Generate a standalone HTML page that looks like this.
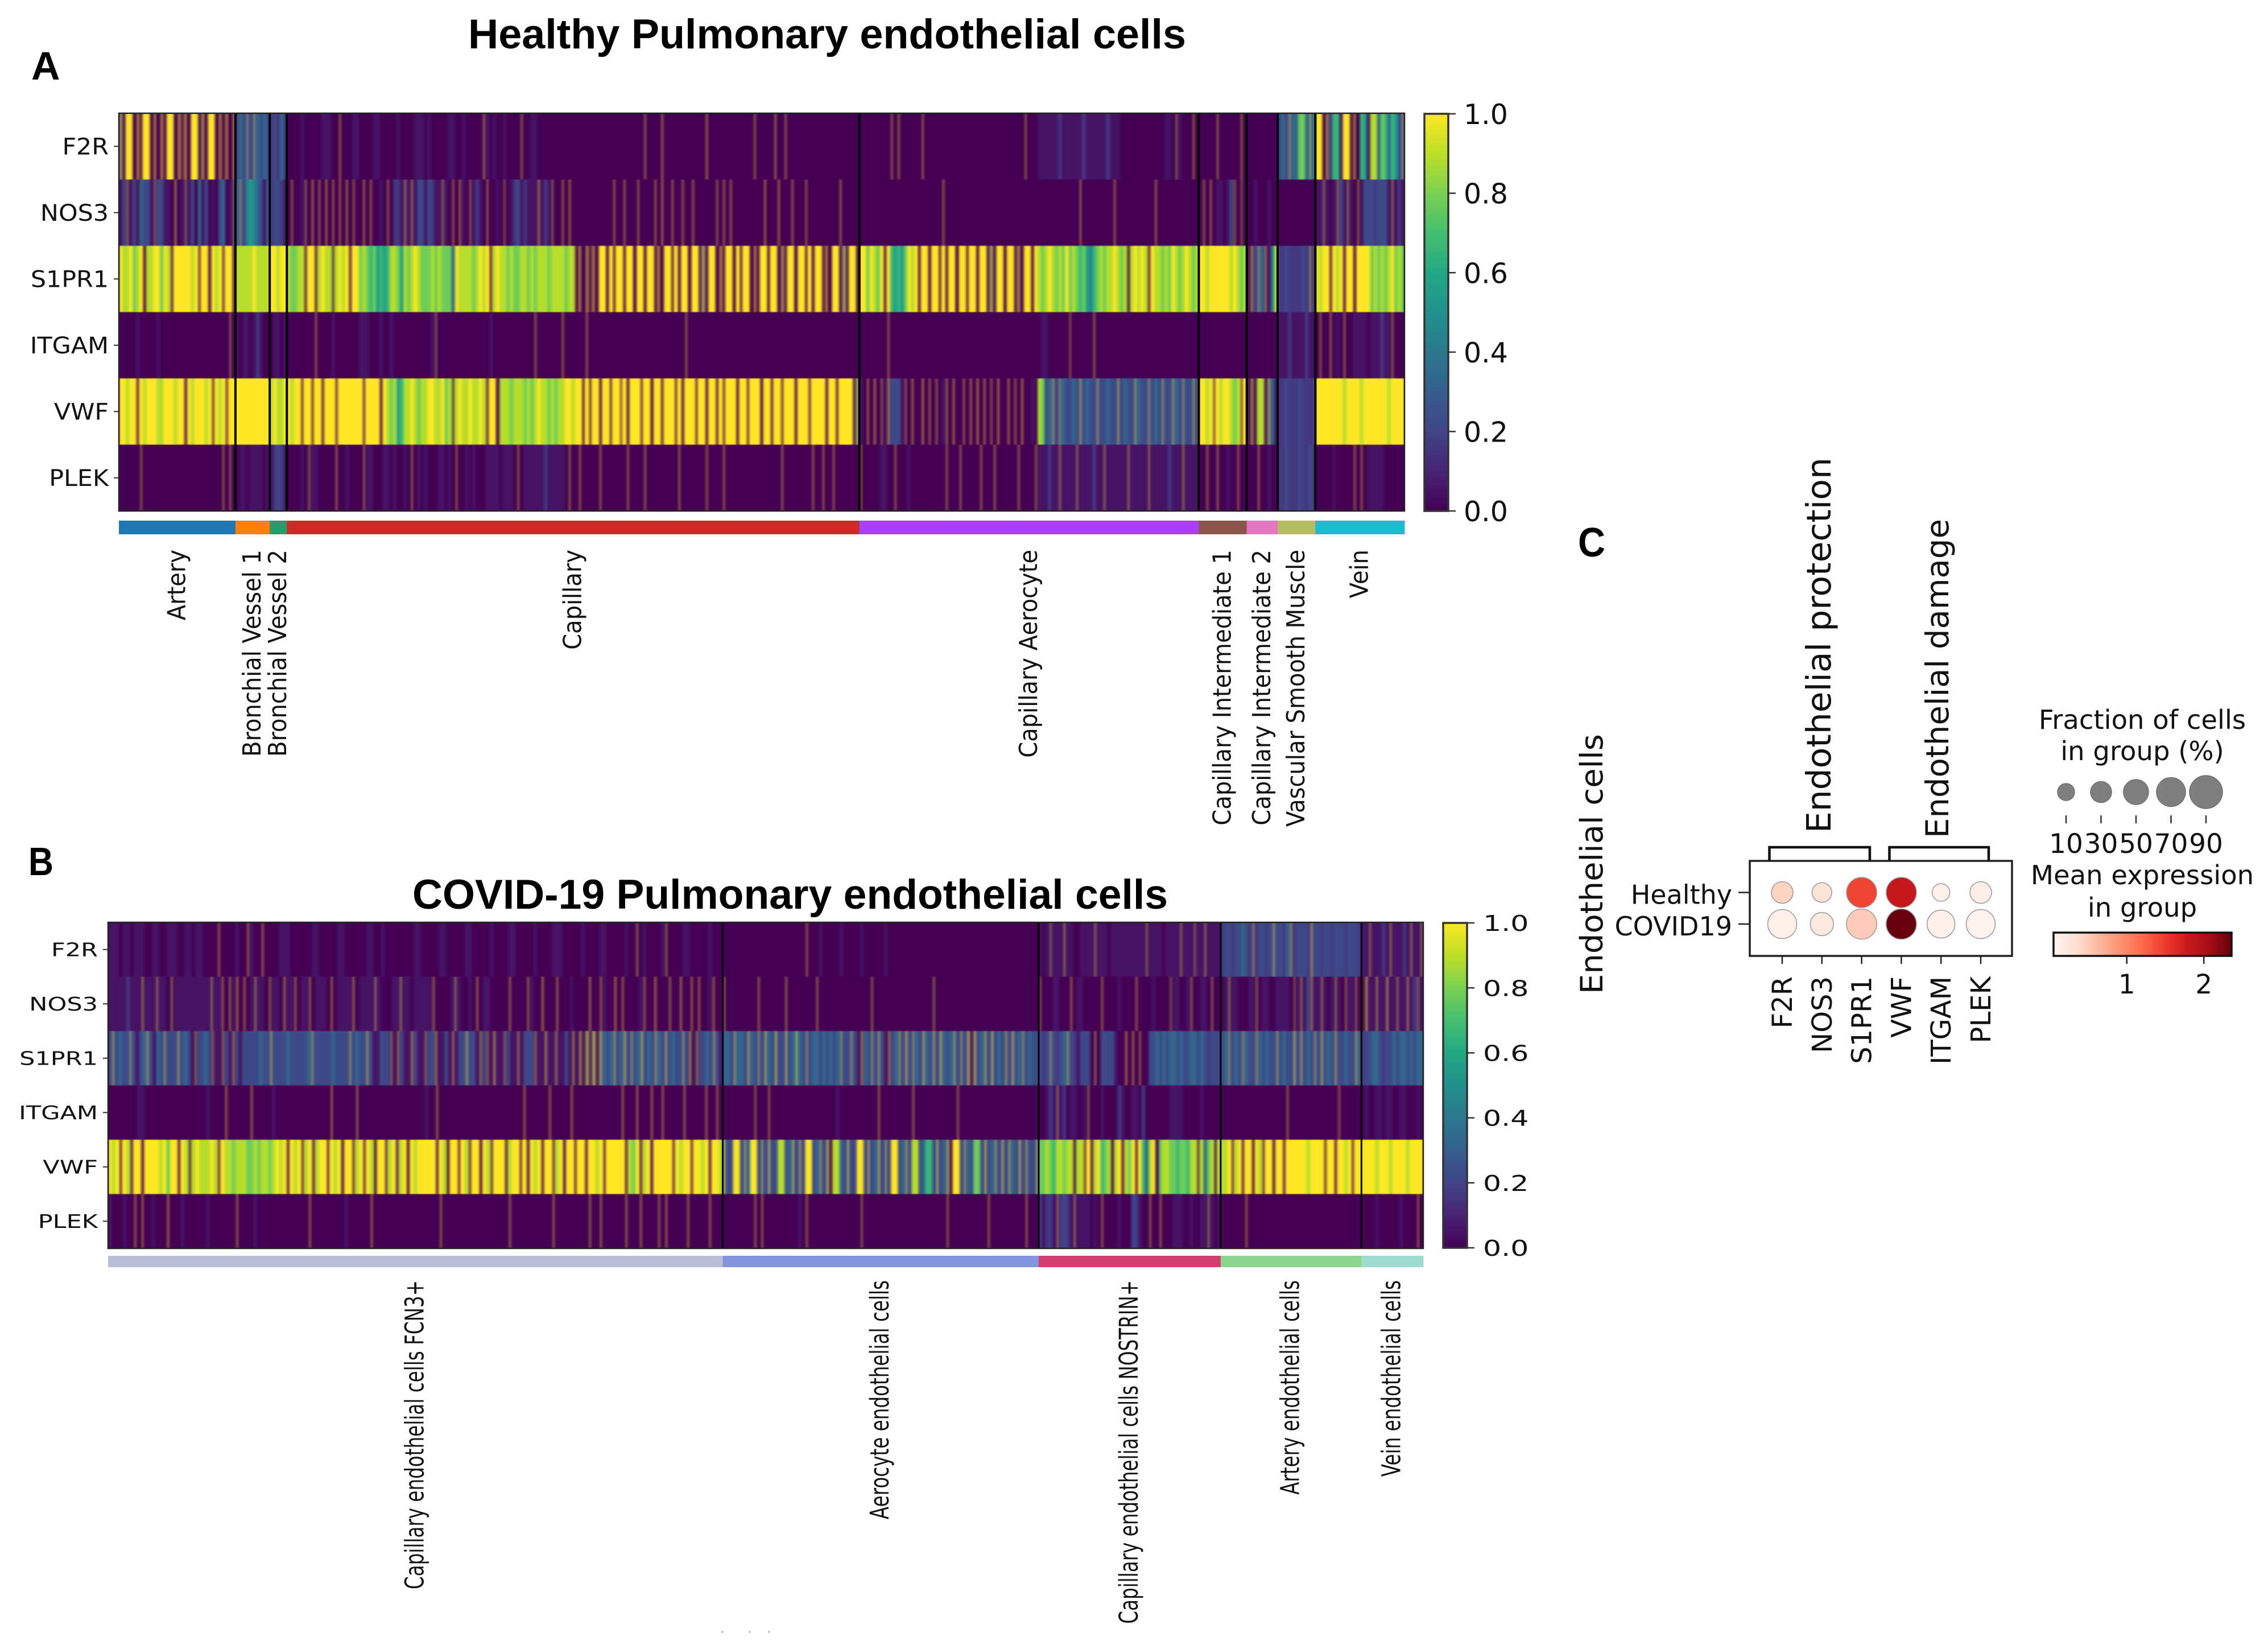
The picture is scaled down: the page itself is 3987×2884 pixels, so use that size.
<!DOCTYPE html>
<html lang="en">
<head>
<meta charset="utf-8">
<title>Pulmonary endothelial cells</title>
<style>
html,body{margin:0;padding:0;background:#fff;width:3987px;height:2884px;overflow:hidden}
svg{display:block}
text{fill:#111;font-family:"DejaVu Sans","Liberation Sans",sans-serif}
.hd{font-family:"Liberation Sans",sans-serif;font-weight:700;fill:#000}
</style>
</head>
<body>
<svg id="fig" xmlns="http://www.w3.org/2000/svg" width="3987" height="2884" viewBox="0 0 3987 2884">
<defs>
<filter id="cellBlur" filterUnits="userSpaceOnUse" x="150" y="150" width="2400" height="2100" color-interpolation-filters="sRGB"><feGaussianBlur stdDeviation="2.2 0.7"/></filter>
<clipPath id="clipA"><rect x="209" y="199" width="2260" height="699"/></clipPath>
<clipPath id="clipB"><rect x="190" y="1621" width="2312" height="573"/></clipPath>
<linearGradient id="viridisGrad" x1="0" y1="1" x2="0" y2="0"></linearGradient>
<linearGradient id="redsGrad" x1="0" y1="0" x2="1" y2="0"></linearGradient>
</defs>
<rect x="0" y="0" width="3987" height="2884" fill="#fff"/>
<text class="hd" x="823" y="85" font-size="73" textLength="1262" lengthAdjust="spacingAndGlyphs">Healthy Pulmonary endothelial cells</text>
<text class="hd" x="55" y="140" font-size="70">A</text>
<text class="hd" x="50" y="1538" font-size="70" textLength="44" lengthAdjust="spacingAndGlyphs">B</text>
<text class="hd" x="725" y="1597" font-size="73" textLength="1328" lengthAdjust="spacingAndGlyphs">COVID-19 Pulmonary endothelial cells</text>
<text class="hd" x="2774" y="978" font-size="72" textLength="48" lengthAdjust="spacingAndGlyphs">C</text>
<g id="panelA"></g>
<g id="panelB"></g>
<g id="panelC"></g>
</svg>
<script>
/* ---------- shared scales ---------- */
const geneLabels = ['F2R','NOS3','S1PR1','ITGAM','VWF','PLEK'];
const colorbarTicks = [0,0.2,0.4,0.6,0.8,1];
const viridisStops = ['#440154','#482475','#414487','#355f8d','#2a788e','#21918c','#22a884','#44bf70','#7ad151','#bddf26','#fde725'];
const redsStops = ['#fff5f0','#fee0d2','#fcbba1','#fc9272','#fb6a4a','#ef3b2c','#cb181d','#a50f15','#67000d'];
const SCORE_MAX = 9; /* cells are read as expression scores 0..9 => 0..1.0 on the colour bar; score 1 = barely detected */

/* ---------- panel A: healthy clusters ---------- */
const healthyClusters = ['Artery','Bronchial Vessel 1','Bronchial Vessel 2','Capillary','Capillary Aerocyte','Capillary Intermediate 1','Capillary Intermediate 2','Vascular Smooth Muscle','Vein'];
const healthyClusterCells = [34,10,5,167,99,14,9,11,26];
const healthyClusterColors = ['#1f77b4','#ff7f0e','#279e68','#d62728','#aa40fc','#8c564b','#e377c2','#b5bd61','#17becf'];

const aF2R = [
[9,2,9,9,0,9,3,9,9,1,9,0,9,2,9,9,0,9,3,9,0,9,9,2,9,1,9,9,0,9,2,9,0,9],
[2,3,2,4,2,5,3,2,3,2],
[1.5,2,1.5,3,1.5],
[0,0,0,0,1,0,0,0,0,0,1,1,1,0,0,5,0,0,0,1,1,0,0,0,0,1,1,0,0,0,0,0,1,0,0,0,0,1,1,1,0,1,0,0,0,0,0,1,1,0,0,1,0,0,0,0,0,6,1,0,1,0,0,1,0,0,0,0,5,0,0,1,1,0,0,0,0,0,0,0,0,0,0,0,
 0,0,0,0,0,0,0,0,0,0,0,0,0,0,0,0,0,0,0,0,5,0,0,0,0,6,0,0,0,0,0,0,0,0,0,0,0,0,6,0,0,0,0,0,0,0,0,0,0,0,0,0,5,0,0,0,0,0,6,0,0,5,0,0,0,0,0,0,0,0,0,0,0,0,0,0,0,0,0,0,0,0,0],
[0,0,0,0,0,0,0,0,0,5,0,5,0,0,0,0,0,0,5,0,0,0,0,0,0,0,0,0,0,0,0,0,0,0,0,0,0,0,0,0,0,0,0,0,0,0,0,0,5,0,0,0,1,1,1,1,1,1,1.5,1,1,1,1,1,1,1.5,1,1,1,1,1,1,1.5,1,1,1,0,0,0,0,0,0,0,0,0,0,0,0,0,1,1,0,5,1,0,0,0,5,0],
[0,0,0,0,0,5,0,0,0,0,0,0,5,0],
[0,0,0,0,0,0,0,0,0],
[2,3,2,6,3,3,7,7,3,6,3],
[9,9,1,9,2,6,6,1,9,9,2,8,0,6,5,1,8,8,3,7,6,3,6,5,2,6]];

const aNOS3 = [
[1,2,5,1,2,1,3,2,2,1,4,2,2,1,1,0,7,0,1,4,1,2,0,3,1,2,0,1,0,2,3,0,1,4],
[3,4,2,4,5,4,3,2,1,3],
[1.5,2,2,1.5,1],
[0,5,0,0,1,5,0,6,0,5,0,6,0,5,0,5,0,6,0,5,0,0,6,0,5,0,0,1,0,5,0,1.5,1.5,1,6,1,5,1,2,2,1,2,1.5,1,1,5,1,0,5,0,6,1,0,5,1,1.5,1,0,5,0,0,1,0,4,0,1,1.5,2,1,1.5,1,1,1,6,1,1.5,1,5,0,0,5,0,6,0,
 0,0,0,0,0,0,0,0,0,0,0,5,0,0,5,0,0,0,5,0,0,0,0,5,0,6,0,0,5,0,0,5,0,0,5,0,0,0,0,0,0,5,0,5,0,5,0,0,0,0,0,0,0,0,0,6,0,0,0,6,0,0,0,5,0,0,0,5,0,0,0,0,0,0,0,0,0,5,0,0,0,0,0],
[0,0,0,0,0,0,0,0,0,0,0,0,0,0,0,0,0,0,0,0,0,0,0,0,5,0,0,0,0,0,0,0,0,0,0,0,0,0,0,0,0,0,0,0,0,0,0,0,0,0,0,0,0,0,0,0,0,0,0,0,0,0,0,0,5,0,0,0,0,0,0,0,0,0,5,0,0,0,0,0,0,0,0,0,0,0,5,0,0,0,0,0,0,0,0,0,0,0,0],
[0,5,0,5,0,1,1,0,1,2,5,0,4,0],
[0,0,1,0,0,0,1,0,0],
[0,0,0,0,0,0,0,0,0,0,0],
[1,1,5,1,0,1,5,2,1,5,1,0,5,1,2,2,2,1.5,2,2,2,1,5,1,1.5,1]];

const aS1PR1 = [
[9,8,8,9,7,8,9,2,8,8,9,9,7,9,8,4,9,9,9,9,9,8,9,5,9,9,2,9,8,9,5,9,9,3],
[8,8,8,8,8,9,8,8,8,8],
[9,9,8,9,9],
[8,7,7,8,8,4,9,9,4,8,9,8,8,5,8,9,8,9,4,9,9,7,8,7,6,7,5,6,5,6,8,8,7,5,8,7,8,9,8,7,7,7,8,7,8,7,7,7,3,9,8,8,8,8,7,8,9,8,9,4,8,9,8,8,7,8,7,7,8,8,7,8,7,8,8,8,7,8,8,8,8,7,8,8,
 2,9,0,9,3,9,0,9,9,2,9,4,9,9,3,9,9,0,9,9,2,9,9,3,9,0,9,9,4,9,2,9,9,0,9,9,3,9,2,9,9,0,9,3,9,9,1,9,4,9,9,0,9,2,9,9,3,9,9,1,9,3,9,9,0,9,9,4,9,2,9,9,3,9,0,9,9,2,9,3,9,9,1],
[9,9,7,9,8,7,9,3,9,6,5,6,5,7,9,8,9,3,9,9,2,9,9,4,9,3,9,9,0,9,9,4,9,9,2,9,9,3,9,2,9,9,1,9,9,3,9,1,9,9,2,9,
 8,7,8,9,8,7,8,7,9,7,8,7,6,7,5,4,6,7,8,7,8,8,9,8,7,8,3,8,9,8,9,8,4,9,8,8,7,8,7,9,8,7,8,9,8,7,8],
[9,9,8,9,9,9,9,9,9,8,9,8,7,8],
[1,8,2,5,3,7,1,4,8],
[1.5,1.5,2,1.5,1.5,1.5,1.5,2,1.5,5,1.5],
[9,8,9,9,4,9,8,9,3,9,9,2,9,9,9,9,7,8,7,8,7,8,9,7,8,7]];

const aITGAM = [
[0,0,0,0,0,1,0,0,0,0,0,1,0,0,0,0,0,0,0,0,0,0,0,0,0,0,0,0,0,0,0,0,5,0],
[1,0,1,1,0,1,1.5,1,0,0],
[0,1,1,0,1],
[0,0,0,0,0,0,0,0,5,0,0,0,0,1,0,0,0,0,0,0,0,1,1,1,0,0,0,1,0,0,1,0,0,0,0,0,0,0,0,0,0,0,1,5,0,0,0,0,0,0,0,0,0,0,0,0,0,0,0,1,0,0,0,0,0,0,0,0,0,0,0,0,5,0,0,0,0,0,0,0,5,0,0,0,
 0,0,0,5,0,0,0,0,0,0,0,0,0,0,0,0,0,0,0,0,0,0,0,0,0,0,0,0,0,0,0,0,5,0,0,0,0,0,0,0,0,0,0,0,0,0,0,0,0,0,0,0,0,0,0,0,0,0,0,0,0,0,0,0,0,0,0,0,0,0,0,0,0,0,0,0,0,0,0,0,0,0,0],
[0,0,0,0,0,0,0,0,5,0,0,0,0,0,0,0,0,0,0,0,0,0,0,0,0,0,0,0,0,0,0,0,0,0,0,0,0,0,0,0,0,0,0,0,0,0,0,0,0,0,0,0,0,1,1,0,0,0,0,0,0,4,0,0,0,0,0,0,5,0,0,0,0,0,0,0,0,0,0,0,0,0,0,0,0,0,0,0,0,0,0,0,0,0,0,0,0,0,0],
[0,0,0,0,0,0,0,0,0,0,0,0,0,0],
[0,0,0,0,0,0,0,0,0],
[1,1,1,1.5,1,1,1,1,1.5,1,1],
[0,5,0,0,5,0,1,0,5,0,0,1,1,1,1,0,1,1,1,1.5,1,1,5,0,0,0]];

const aVWF = [
[9,9,8,9,9,4,9,8,9,9,9,8,8,9,9,9,8,9,9,3,9,8,9,9,9,8,9,5,9,8,9,5,9,9],
[9,9,9,9,9,9,9,9,9,9],
[8,9,8,8,9],
[9,8,9,9,5,9,9,5,9,9,4,9,9,9,5,9,9,9,9,9,9,9,5,9,9,9,9,3,9,8,7,8,5,6,8,8,9,8,7,8,8,9,9,8,8,9,7,8,5,8,9,8,8,9,8,8,9,8,4,9,9,0,8,8,8,7,8,8,8,7,8,7,8,9,8,8,7,8,7,8,8,9,9,8,
 9,9,4,9,5,9,9,3,9,9,5,9,9,6,9,3,9,9,9,5,9,9,2,9,9,4,9,9,9,5,9,3,9,9,9,5,9,9,3,9,9,4,9,5,9,9,9,3,9,9,5,9,9,9,2,9,9,4,9,9,5,9,9,9,3,9,9,9,5,9,9,9,9,3,9,9,4,9,9,9,9,3,9],
[1,0,6,0,7,0,5,1,8,2,2,2,1,5,0,6,0,0,7,0,5,0,5,0,1,6,0,7,0,0,5,0,6,0,7,0,6,0,5,0,7,0,0,6,0,5,0,7,0,0,1,0,
 8,7,2,3,6,2,5,3,2,2,3,2,6,2,3,2,2,5,2,2,3,2,2,6,2,3,2,2,6,3,2,2,5,2,3,2,5,2,2,6,3,2,5,2,2,6,2],
[9,9,8,9,6,9,8,9,9,8,7,8,6,9],
[1,8,2,8,8,2,8,3,1],
[1.5,1.5,2,1.5,1.5,1.5,2,1.5,1.5,1.5,1.5],
[9,9,9,9,9,9,9,9,8,9,9,9,9,8,9,9,9,9,9,9,9,8,9,9,9,9]];

const aPLEK = [
[0,0,0,0,0,0,5,0,0,0,0,0,0,0,0,0,0,0,0,0,0,0,0,0,0,0,0,0,0,0,5,0,5,0],
[0,1,1,0,1,1,1,1,0,1],
[1,1.5,2,1.5,1],
[0,0,0,0,1,0,5,1,1,0,0,0,0,0,5,0,0,1,0,0,0,0,5,1,1,0,0,0,1,1,0,1,0,0,1,0,5,0,1,0,1,0,0,0,1,1,0,1,0,5,0,0,1,0,1,0,0,0,1,1,1,1,0,1,1,1,0,5,0,1,1,1,1,1,1,1.5,1,1,1,1,1,0,5,0,
 0,5,0,0,0,0,0,5,0,0,0,0,0,0,0,5,0,0,0,0,5,0,0,0,0,0,0,0,0,0,5,0,0,0,0,0,0,0,5,0,0,0,0,5,0,0,0,0,0,0,0,0,0,0,0,0,0,0,0,0,5,0,0,0,0,0,0,0,0,5,0,0,5,0,0,5,0,0,0,0,0,0,0],
[5,0,0,0,0,0,1,1,0,0,5,0,0,0,1,0,0,0,0,0,0,0,0,0,0,5,0,0,0,5,0,0,0,0,0,5,0,0,0,5,0,0,0,0,0,0,5,0,0,0,0,5,1,1,1,1.5,1,1,5,1,1,1,1,5,1,1,1,1,1.5,1,1,5,1,1,1,1,1,1,5,1,1,1,1,1,5,1,1,1,1,1,1.5,1,1,1,5,1,1,1,1],
[0,0,5,0,0,5,0,0,1,0,0,5,0,0],
[0,0,0,5,0,0,1,0,0],
[1.5,1.5,2,1.5,1.5,1.5,2,1.5,1.5,2,1.5],
[0,0,0,0,0,1,0,0,0,0,0,5,0,5,0,1,1,1,1,1,0,0,0,0,0,0]];

/* ---------- panel B: COVID-19 clusters ---------- */
const covidClusters = ['Capillary endothelial cells FCN3+','Aerocyte endothelial cells','Capillary endothelial cells NOSTRIN+','Artery endothelial cells','Vein endothelial cells'];
const covidClusterCells = [179,92,53,41,18];
const covidClusterColors = ['#b9bdd6','#8493e0','#d43d6f','#8cd58f','#9fdccf'];

const bF2R = [
[1,1,1,0,1,1,0,1,1,1,0,0,1,1,0,0,1,1,1,0,0,1,1,0,1,1,0,0,0,0,5,0,0,0,0,1,0,0,5,1,0,0,5,0,0,0,0,1,1,1,0,0,0,0,0,0,1,1,0,0,0,0,0,1,1,0,0,0,0,0,0,1,1,0,0,1,0,0,0,0,0,0,0,0,1,1,0,0,0,0,
 0,1,1,0,0,0,0,0,1,1,0,0,0,0,0,1,0,0,0,0,1,1,0,0,0,0,0,1,0,0,0,0,1,1,1,0,0,0,0,0,1,0,0,0,0,1,1,0,0,0,0,0,1,0,0,5,0,1,0,0,0,0,1,5,0,0,0,0,1,1,0,0,0,0,0,1,0,0,0],
[0,0,0,0,0,0,0,0,0,0,0,0,0,0,0,0,0,0,0,0,0,0,0,0,5,0,0,0,1,0,0,0,0,0,1,0,0,0,0,0,1,0,0,0,0,0,0,1,0,0,0,0,0,0,0,0,0,0,0,0,0,0,0,0,0,0,0,0,0,0,0,0,0,0,0,0,0,0,0,0,0,0,0,0,0,0,0,0,0,0,0,0],
[1,0,1,4,1,1,1,5,1,1,0,0,1,1,1,1,5,1,1,1,0,1,1,1,1,1,1,1,1,1,1,4,1,1,1,1,0,1,1,1,1,5,1,1,1,4,1,1,5,1,1,1,1],
[1.5,2,2,1.5,2,2,3,2,1.5,5,1.5,2,2,1.5,2,6,2,2,1.5,3,6,1.5,2,2,2,1.5,7,2,2,1.5,2,2,1.5,2,2,2,1.5,2,2,2,1.5],
[1,1,5,1,1,1,1.5,1,5,1,1,1,1.5,1,5,1,1,5]];

const bNOS3 = [
[1,1,1,1,1,1.5,1,1,1,5,1,1,1,5,1,1,0,5,1,1,1,1,1,1,1,1,1,1,5,1,1,5,0,5,1,6,0,5,0,1,5,1,1,0,5,1,1,0,6,1,1,5,0,1,1,5,0,1,1,1,0,5,0,1,1,1,1,6,0,1,1,1,1,5,1,0,0,0,1,1,5,1,1,0,1,1,1,1,1,5,
 0,0,0,0,1,5,1,0,0,1,0,5,0,1,1,0,0,0,0,0,5,0,0,0,0,5,1,0,0,6,0,0,0,5,0,0,0,1,0,0,0,0,6,0,0,5,1,0,0,6,0,5,0,0,0,0,1,5,0,0,6,0,0,0,5,0,0,6,0,0,5,0,5,0,0,1,5,0,0],
[5,0,0,0,0,0,0,0,0,0,5,0,0,0,0,0,0,0,5,0,0,0,0,0,0,0,0,5,0,0,0,0,0,0,0,0,0,0,0,0,0,0,0,5,0,0,0,0,0,0,0,0,0,0,0,0,0,0,0,0,0,5,0,0,0,0,0,0,0,0,0,0,0,0,0,0,0,0,0,0,0,0,0,0,0,0,0,0,0,0,0,0],
[4,0,0,0,1,1,0,0,0,5,0,1,1,0,0,0,0,0,5,0,0,0,0,1,0,0,0,0,5,0,0,0,0,1,0,0,0,0,4,1,1,0,0,1,5,0,0,1,1,0,5,0,0],
[0,1,5,1,1,0,0,0,1,1,5,0,1,1,0,0,1,1,1,1,0,4,1,5,1,2,6,1,1,5,1,0,1,5,1,0,5,1,1,5,0],
[1,9,1,1,6,1,1,8,1,1,5,1,1,6,1,1.5,5,1]];

const bS1PR1 = [
[2,6,2,3,2,2,5,2,1,2,3,6,2,1,3,2,5,2,2,2,6,2,3,2,1,5,2,2,3,2,5,1,1,5,2,1,6,2,1,2,2,2,2,2,3,2,2,6,2,2,2,2,3,2,2,2,2,2,3,5,2,2,2,2,2,3,2,2,2,2,5,2,3,2,2,6,2,1,1,2,2,2,5,1,6,2,1,1,7,2,1,1,5,2,2,7,1,1,2,1,
 6,1,2,2,7,2,2,1,6,2,5,1,8,1,1,5,2,1,1,6,1,2,2,2,5,1,1,8,1,1,6,1,1,2,1,7,1,8,2,8,3,9,2,8,3,2,3,6,2,3,8,2,5,2,3,8,2,3,2,6,3,2,7,2,3,2,2,5,2,8,1,6,2,2,3,2,6,2,1],
[3,3,2,6,3,3,2,7,3,2,5,2,8,3,2,9,2,2,8,2,3,8,3,2,5,2,3,3,2,3,2,3,2,3,5,2,2,5,2,1,7,3,2,5,2,6,2,1,7,2,3,6,2,8,2,5,3,2,8,3,2,7,2,9,3,2,3,7,2,5,2,9,2,8,2,3,7,2,9,2,3,2,6,2,8,2,3,5,2,3,2,2],
[2,1.5,2,5,2,1.5,2,3,6,2,1.5,1,2,2,2,0,6,0,2,2,2,2,1,0,0,7,0,6,0,5,0,0,2,2,3,2,3,2,3,3,2,3,2,2,3,3,2,3,2,1.5,2,2,2],
[2,3,5,2,3,2,5,3,2,2,5,3,2,3,2,2,6,2,3,2,2,8,2,6,2,3,2,5,2,7,2,3,2,6,2,2,3,2,2,6,3],
[1.5,2,2,3,3,2,1.5,2,2,3,2,3,3,2,3,2,3,3]];

const bITGAM = [
[0,0,0,0,0,0,0,0,1,1,0,0,0,0,0,0,0,0,0,0,0,0,0,0,0,0,0,1,0,0,0,0,5,0,0,0,0,0,0,5,0,0,0,0,0,1,0,0,0,0,0,0,0,0,0,0,0,0,0,0,0,5,0,0,0,0,0,0,5,0,0,0,0,0,0,0,0,0,0,0,0,0,0,0,0,0,0,1,0,0,
 5,0,0,0,0,0,0,0,0,0,0,0,0,0,0,0,0,0,0,0,0,0,0,0,5,0,0,0,0,0,0,5,0,0,0,0,0,5,0,0,0,0,0,0,0,0,0,0,0,0,0,5,0,0,0,5,0,0,0,5,0,0,5,0,0,0,0,0,5,0,0,0,0,0,5,0,0,5,0],
[0,0,0,0,0,0,0,0,0,5,0,0,0,5,0,0,0,0,0,0,0,0,0,0,0,0,0,0,0,0,0,0,0,1,0,0,0,0,0,0,0,0,0,0,0,5,0,0,0,0,0,0,0,0,0,5,0,0,0,0,0,0,0,0,0,0,0,0,5,0,0,0,0,0,0,0,0,0,0,0,0,0,0,0,0,0,0,0,0,0,0,0],
[0,0,1,1.5,1,5,1,1.5,0,1,1,0,0,1,5,0,0,0,1,0,0,0,0,1.5,1,0,0,1,1,0,1.5,0,0,0,0,0,0,0,1,1,1,1,0,0,0,0,0,1,0,0,0,0,0],
[0,0,0,0,0,0,0,0,0,0,0,0,0,0,0,0,0,0,0,5,0,0,0,0,0,0,0,0,0,0,0,0,0,0,5,0,0,0,0,0,0],
[0,1,0,0,1,1,0,1,1,0,0,1,1,0,0,0,1,0]];

const bVWF = [
[9,8,9,5,9,8,4,9,9,3,9,9,9,9,8,9,7,9,9,4,9,8,5,8,9,8,8,8,9,8,5,9,8,8,7,8,8,8,7,7,8,7,8,8,7,8,9,8,9,4,9,8,9,5,8,9,4,8,9,9,5,9,8,9,3,9,9,5,8,9,5,9,8,3,9,9,5,8,9,4,8,9,3,9,8,9,9,9,9,9,
 4,9,8,3,9,9,5,9,8,5,9,9,3,9,8,5,9,9,9,4,8,9,9,5,9,3,9,8,9,4,9,9,5,8,9,3,9,9,5,9,9,4,9,9,8,9,5,9,9,9,9,9,4,8,7,9,4,8,9,3,9,9,9,9,9,5,9,8,9,9,5,9,9,8,9,4,9,9,8],
[9,2,2,9,9,2,7,3,9,9,2,6,2,9,2,2,8,8,2,3,9,2,7,2,9,9,2,3,6,2,9,2,8,8,3,2,9,2,2,9,9,2,7,2,3,9,2,6,2,9,9,2,3,7,2,8,8,2,3,6,6,2,9,2,3,8,2,9,9,2,6,3,2,7,7,2,9,2,3,6,2,8,2,7,3,2,9,2,6,2,2,7],
[7,7,8,7,6,8,8,7,8,8,3,8,8,5,9,3,8,9,6,7,8,2,8,9,3,8,7,9,4,9,6,3,8,9,0,7,8,8,7,7,6,7,7,6,8,8,5,8,3,7,8,4,8],
[8,8,9,5,8,9,4,9,9,3,9,8,5,9,9,3,9,9,4,9,9,9,9,9,9,8,9,9,9,9,5,9,9,4,9,9,8,9,5,9,9],
[9,9,9,9,8,9,9,9,8,9,9,9,9,8,9,9,9,9]];

const bPLEK = [
[1,0,0,0,1,0,0,5,0,5,0,0,1,0,0,0,6,0,0,0,1,0,0,0,0,0,0,1,0,0,0,0,0,0,0,5,0,0,0,0,1,0,0,0,0,0,0,0,0,0,0,0,0,0,0,5,0,0,0,0,0,0,0,0,0,1,0,0,0,0,0,0,5,0,0,0,0,0,0,0,0,0,0,0,0,0,0,0,0,0,
 0,5,0,0,0,0,0,0,0,0,0,0,0,0,0,0,0,0,0,0,5,0,0,0,0,0,0,0,0,0,0,0,5,0,0,0,0,0,0,0,0,0,5,0,0,5,0,0,0,0,0,0,5,0,0,0,5,0,0,0,0,5,0,5,0,0,0,0,0,5,0,0,0,0,0,5,0,0,0],
[0,0,0,0,0,0,0,0,0,5,0,5,0,0,0,0,0,0,0,0,0,0,1,0,5,0,0,0,0,0,0,0,0,0,0,0,0,0,0,0,5,0,0,0,0,0,0,0,0,0,0,0,0,0,0,0,0,0,0,0,0,0,0,0,0,5,0,0,0,0,0,0,0,0,0,0,0,5,0,0,0,0,0,0,0,0,0,0,5,0,0,0],
[1.5,1,1.5,1.5,1,5,1.5,2,1.5,1,5,1,1,1,1,0,1,0,5,0,0,0,0,1,0,0,0,2,1.5,1,0,0,5,0,0,5,0,0,0,1,1,1,0,0,1,0,0,1,1,5,1,0,1],
[0,0,0,0,0,0,0,5,0,0,0,0,0,0,0,0,0,0,0,0,0,0,0,0,0,0,0,0,0,0,0,0,0,0,0,0,0,0,0,0,0],
[0,0,0,0,1,0,0,0,0,0,0,1,0,0,0,0,5,0]];

/* ---------- panel C: dot plot ---------- */
const dotGroups = ['Healthy','COVID19'];
const dotGenes = ['F2R','NOS3','S1PR1','VWF','ITGAM','PLEK'];
const healthyFraction = [33,23,76,76,13,33];
const covidFraction = [70,41,76,76,64,70];
const healthyMean = [0.44,0.28,1.44,1.83,0.12,0.14];
const covidMean = [0.12,0.21,0.5,2.36,0.12,0.1];
const sizeLegendFractions = [10,30,50,70,90];
const meanColorTicks = [1,2];

/* ---------- helpers ---------- */
const NS = 'http://www.w3.org/2000/svg';
function el(tag, attrs, parent){
  const n = document.createElementNS(NS, tag);
  for (const k in attrs) n.setAttribute(k, attrs[k]);
  parent.appendChild(n);
  return n;
}
function hexRgb(h){return [parseInt(h.slice(1,3),16),parseInt(h.slice(3,5),16),parseInt(h.slice(5,7),16)];}
function ramp(stops,t){
  t=Math.max(0,Math.min(1,t));
  const p=t*(stops.length-1),i=Math.min(stops.length-2,Math.floor(p)),f=p-i;
  const a=hexRgb(stops[i]),b=hexRgb(stops[i+1]);
  return 'rgb('+[0,1,2].map(k=>Math.round(a[k]+(b[k]-a[k])*f)).join(',')+')';
}
function viridis(score){return ramp(viridisStops,score===1?0.05:score/SCORE_MAX);}
function gradient(id,stops){
  const g=document.getElementById(id);
  stops.forEach((c,i)=>{el('stop',{offset:i/(stops.length-1),'stop-color':c},g);});
}
gradient('viridisGrad',viridisStops);
gradient('redsGrad',redsStops);

function drawHeatmap(cfg){
  const root=document.getElementById(cfg.root);
  const rows=cfg.rows, sizes=cfg.sizes;
  const total=sizes.reduce((a,b)=>a+b,0);
  const xAxis=c=>cfg.left+cfg.width*c/total;
  const rowH=cfg.height/rows.length;
  const yAxis=r=>cfg.top+rowH*r;

  const bg=el('rect',{x:cfg.left,y:cfg.top,width:cfg.width,height:cfg.height,fill:viridisStops[0]},root);
  
  

  const clip=el('g',{'clip-path':'url(#'+cfg.clip+')'},root);
  
  
  const cells=el('g',{filter:'url(#cellBlur)'},clip);
  
  

  rows.forEach((row,r)=>{
    let start=0;
    row.forEach((values,c)=>{
      const x0=xAxis(start), x1=xAxis(start+sizes[c]);
      const w=(x1-x0)/values.length;
      values.forEach((v,j)=>{
        const left=j>0?values[j-1]:values[j+1], right=j<values.length-1?values[j+1]:values[j-1];
        const peak=v>=4&&left<=3&&right<=3;
        const dip=v<=6&&left>=8&&right>=8;
        const baseScore=peak?Math.min(left,right):(dip?Math.max(left,right):v);
        const x=x0+j*w;
        const cell=el('rect',{x:x.toFixed(2),y:yAxis(r),width:(w+0.4).toFixed(2),height:rowH,fill:viridis(baseScore)},cells);
        
        
        if(peak||dip){
          const tw=peak?w*(0.08+0.26*v/SCORE_MAX):w*(0.15+0.85*(SCORE_MAX-v)/SCORE_MAX);
          const line=el('rect',{x:(x+(w-tw)/2).toFixed(2),y:yAxis(r),width:tw.toFixed(2),height:rowH,fill:peak?viridis(SCORE_MAX):viridis(0)},cells);
          
          
        }
      });
      start+=sizes[c];
    });
  });

  /* group separators */
  let edge=0;
  sizes.slice(0,-1).forEach(s=>{
    edge+=s;
    const sep=el('line',{x1:xAxis(edge),x2:xAxis(edge),y1:cfg.top,y2:cfg.top+cfg.height,stroke:'#000','stroke-width':cfg.sepW},root);
    
    
  });
  const frame=el('rect',{x:cfg.left,y:cfg.top,width:cfg.width,height:cfg.height,fill:'none',stroke:'#222','stroke-width':2.5},root);
  
  

  /* gene axis */
  geneLabels.forEach((g,r)=>{
    const cy=yAxis(r)+rowH/2;
    const t=el('line',{x1:cfg.left-9,x2:cfg.left,y1:cy,y2:cy,stroke:'#333','stroke-width':2},root);
    
    
    const lab=el('text',{transform:'translate('+(cfg.left-18)+','+(cy+cfg.rowFont*0.36)+') scale('+cfg.rowStretch+',1)','text-anchor':'end','font-size':cfg.rowFont},root);
    lab.textContent=g;
    
    
  });

  /* cluster bar and labels */
  let start=0;
  sizes.forEach((s,c)=>{
    const x0=xAxis(start),x1=xAxis(start+s);
    const bar=el('rect',{x:x0,y:cfg.barTop,width:x1-x0+0.5,height:cfg.barH,fill:cfg.colors[c]},root);
    
    
    const lab=el('text',{transform:'translate('+((x0+x1)/2+14)+','+cfg.labTop+') rotate(-90) scale(1,'+cfg.labStretch+')','text-anchor':'end','font-size':cfg.labFont},root);
    lab.textContent=cfg.labels[c];
    
    
    start+=s;
  });

  /* colour bar */
  const cb=cfg.cb;
  const cbY=v=>cb.bottom-(cb.bottom-cb.top)*v;
  const cr=el('rect',{x:cb.left,y:cb.top,width:cb.right-cb.left,height:cb.bottom-cb.top,fill:'url(#viridisGrad)',stroke:'#333','stroke-width':3.5},root);
  
  
  colorbarTicks.forEach(v=>{
    const y=cbY(v);
    const t=el('line',{x1:cb.right,x2:cb.right+13,y1:y,y2:y,stroke:'#333','stroke-width':2.5},root);
    
    
    const lab=el('text',{transform:'translate('+cb.labX+','+(y+cb.font*0.37)+') scale('+cb.stretch+',1)','font-size':cb.font},root);
    lab.textContent=v.toFixed(1);
    
    
  });
}

drawHeatmap({root:'panelA',clip:'clipA',rows:[aF2R,aNOS3,aS1PR1,aITGAM,aVWF,aPLEK],sizes:healthyClusterCells,colors:healthyClusterColors,labels:healthyClusters,
  left:209,top:199,width:2260,height:699,sepW:4,rowFont:40,rowStretch:1.07,barTop:915,barH:24,labTop:966,labFont:40,labStretch:1.1,
  cb:{left:2504,right:2546,top:200,bottom:898,labX:2573,font:49,stretch:1}});
drawHeatmap({root:'panelB',clip:'clipB',rows:[bF2R,bNOS3,bS1PR1,bITGAM,bVWF,bPLEK],sizes:covidClusterCells,colors:covidClusterColors,labels:covidClusters,
  left:190,top:1621,width:2312,height:573,sepW:3,rowFont:32.6,rowStretch:1.32,barTop:2207,barH:20,labTop:2250,labFont:32.6,labStretch:1.38,
  cb:{left:2537,right:2579,top:1622,bottom:2193,labX:2607,font:38,stretch:1.33}});

/* ---------- dot plot drawing ---------- */
(function(){
  const root=document.getElementById('panelC');
  const xDot=i=>3133+69.8*i;
  const yDot=i=>1568.5+55.5*i;
  const dotDiameter=f=>26.5+0.35*f;
  const meanMin=0.05, meanMax=2.36;
  const meanColor=v=>ramp(redsStops,(v-meanMin)/(meanMax-meanMin));
  const meanAxis=v=>3610+(v-meanMin)/(meanMax-meanMin)*313;

  const frame=el('rect',{x:3076,y:1513,width:461,height:167,fill:'#fff',stroke:'#222','stroke-width':3.5},root);
  
  

  [[healthyFraction,healthyMean],[covidFraction,covidMean]].forEach((pair,r)=>{
    dotGenes.forEach((g,i)=>{
      const d=el('circle',{cx:xDot(i),cy:yDot(r),r:dotDiameter(pair[0][i])/2,fill:meanColor(pair[1][i]),stroke:'#999','stroke-width':1.5},root);
      
      
    });
    const t=el('line',{x1:3056,x2:3076,y1:yDot(r),y2:yDot(r),stroke:'#222','stroke-width':2.5},root);
    
    
    const lab=el('text',{x:3045,y:yDot(r)+20,'text-anchor':'end','font-size':46},root);
    lab.textContent=dotGroups[r];
    
    
  });

  dotGenes.forEach((g,i)=>{
    const t=el('line',{x1:xDot(i),x2:xDot(i),y1:1680,y2:1694,stroke:'#222','stroke-width':2.5},root);
    
    
    const lab=el('text',{transform:'translate('+(xDot(i)+17)+',1716) rotate(-90)','text-anchor':'end','font-size':48},root);
    lab.textContent=g;
    
    
  });

  const br=el('path',{d:'M3110.5 1513V1489H3287V1513M3321.5 1513V1489H3496V1513',fill:'none',stroke:'#111','stroke-width':4.5},root);
  
  

  const p=el('text',{transform:'translate(3218,1464) rotate(-90)','font-size':58.6,textLength:660,lengthAdjust:'spacingAndGlyphs'},root);
  p.textContent='Endothelial protection';
  
  
  const dm=el('text',{transform:'translate(3425,1473) rotate(-90)','font-size':55,textLength:561,lengthAdjust:'spacingAndGlyphs'},root);
  dm.textContent='Endothelial damage';
  
  
  const yt=el('text',{transform:'translate(2817,1747) rotate(-90)','font-size':54.7,textLength:457,lengthAdjust:'spacingAndGlyphs'},root);
  yt.textContent='Endothelial cells';
  
  

  const cx=3766;
  const l1=el('text',{x:cx,y:1281,'text-anchor':'middle','font-size':46.5},root);
  l1.textContent='Fraction of cells';
  
  
  const l2=el('text',{x:cx,y:1336,'text-anchor':'middle','font-size':46.5},root);
  l2.textContent='in group (%)';
  
  

  sizeLegendFractions.forEach((f,i)=>{
    const x=3632+61.5*i;
    const d=el('circle',{cx:x,cy:1392,r:dotDiameter(f)/2,fill:'#7f7f7f',stroke:'#6f6f6f','stroke-width':1.5},root);
    
    
    const t=el('line',{x1:x,x2:x,y1:1433,y2:1447,stroke:'#333','stroke-width':2.5},root);
    
    
    const lab=el('text',{x:x,y:1499,'text-anchor':'middle','font-size':47},root);
    lab.textContent=String(f);
    
    
  });

  const m1=el('text',{x:cx,y:1554,'text-anchor':'middle','font-size':46.5},root);
  m1.textContent='Mean expression';
  
  
  const m2=el('text',{x:cx,y:1611,'text-anchor':'middle','font-size':46.5},root);
  m2.textContent='in group';
  
  

  const cb=el('rect',{x:3610,y:1639,width:313,height:41,fill:'url(#redsGrad)',stroke:'#111','stroke-width':3.5},root);
  
  
  meanColorTicks.forEach(v=>{
    const x=meanAxis(v);
    const t=el('line',{x1:x,x2:x,y1:1680,y2:1694,stroke:'#222','stroke-width':2.5},root);
    
    
    const lab=el('text',{x:x,y:1746,'text-anchor':'middle','font-size':47},root);
    lab.textContent=String(v);
    
    
  });
})();

/* small specks under panel B */
[1270,1318,1352].forEach(x=>{
  const s=el('circle',{cx:x,cy:2868,r:1.6,fill:'#aaa'},document.getElementById('fig'));
  
  
});
</script>
</body>
</html>
